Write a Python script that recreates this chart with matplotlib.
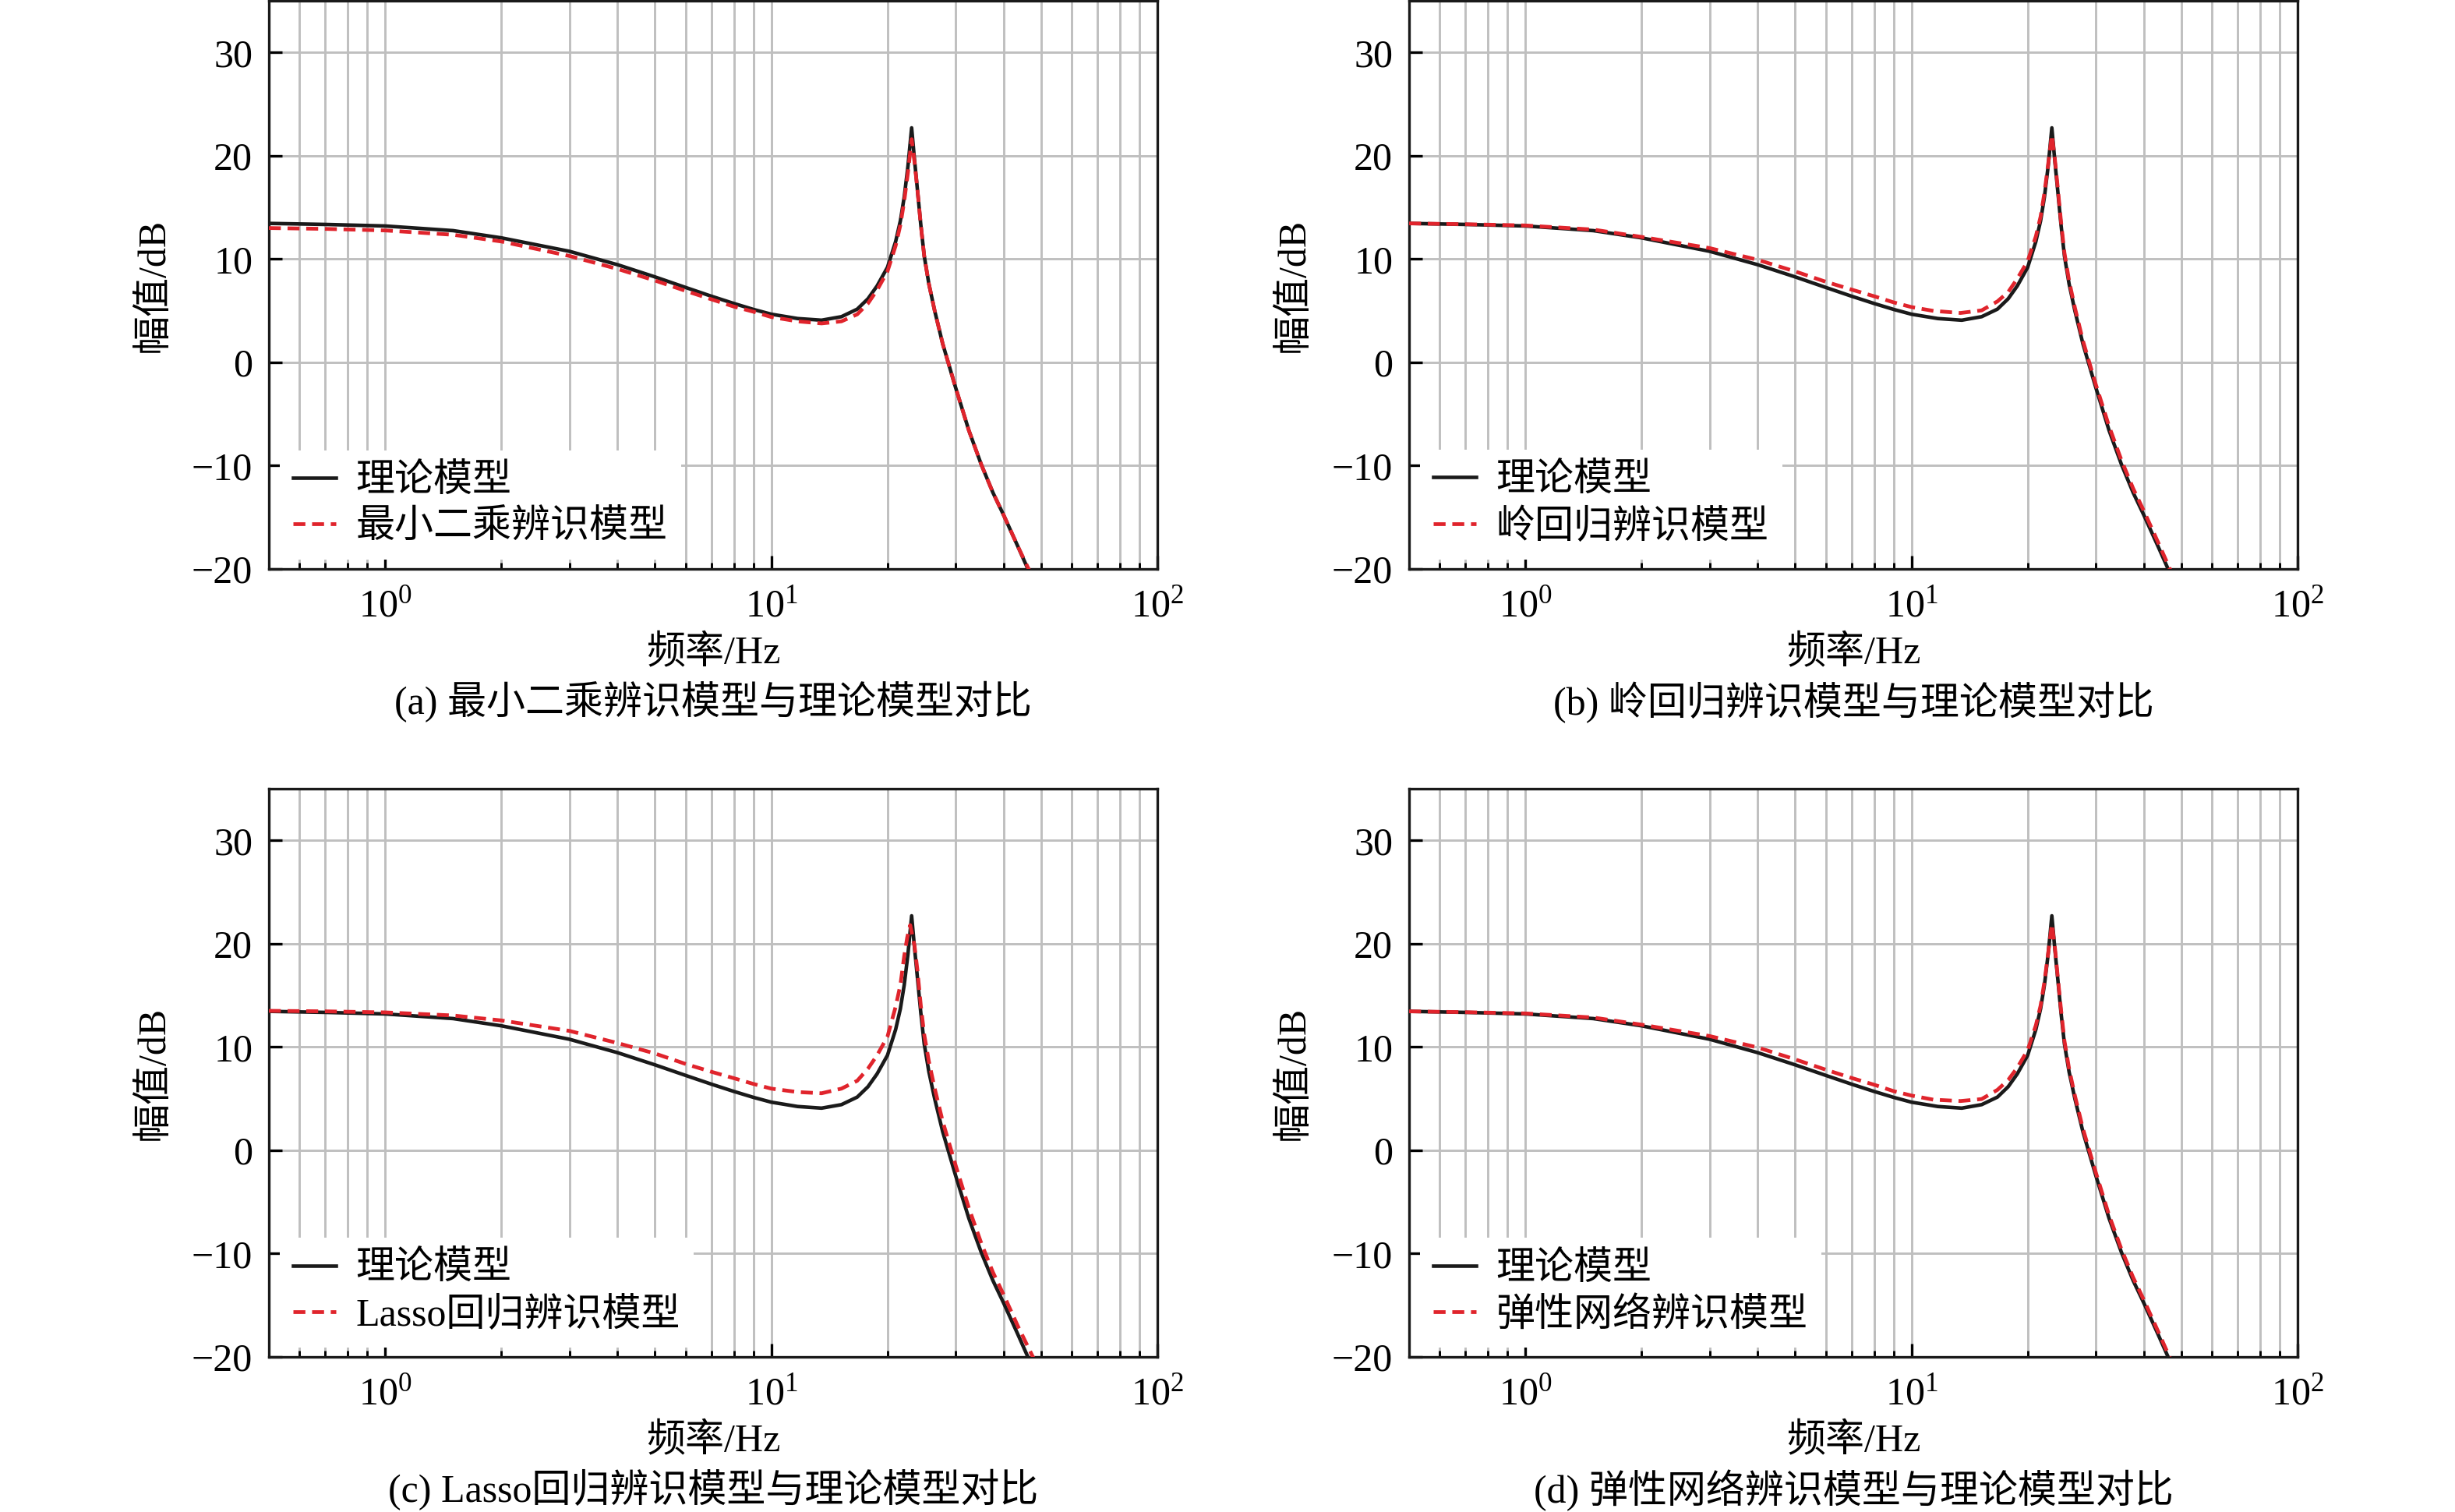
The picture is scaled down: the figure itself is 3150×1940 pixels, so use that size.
import matplotlib
matplotlib.use("Agg")
import matplotlib.pyplot as plt
from matplotlib.ticker import LogLocator, NullFormatter

plt.rcParams["font.family"] = ["Liberation Serif", "Noto Sans CJK SC"]
plt.rcParams["mathtext.fontset"] = "custom"
plt.rcParams["mathtext.rm"] = "Liberation Serif"
plt.rcParams["mathtext.it"] = "Liberation Serif:italic"
plt.rcParams["font.size"] = 12

# 频率点 (Hz) 与幅值 (dB)
f_theory = [0.5, 0.7, 1.0, 1.5, 2.0, 3.0, 4.0, 5.0, 6.0, 7.0, 8.0, 9.0, 10.0, 11.7, 13.5,
            15.2, 16.7, 17.8, 18.8, 20.0, 21.0, 21.6, 22.1, 22.6, 23.1, 23.5, 23.9, 24.4,
            24.9, 25.6, 26.5, 27.8, 30.0, 32.5, 35.0, 37.5, 40.0, 43.5, 46.2, 50.0]
mag_theory = [13.45, 13.35, 13.2, 12.75, 12.05, 10.75, 9.45, 8.27, 7.25, 6.4, 5.7, 5.12, 4.66,
              4.24, 4.08, 4.42, 5.15, 6.15, 7.4, 9.2, 11.7, 13.7, 16.0, 19.0, 22.7, 19.6, 16.8,
              13.3, 10.3, 7.6, 5.0, 1.8, -2.4, -6.6, -9.9, -12.6, -14.8, -17.8, -20.0, -23.0]

# (a) 最小二乘
f_ls = [0.5, 0.7, 1.0, 1.5, 2.0, 3.0, 4.0, 5.0, 6.0, 7.0, 8.0, 9.0, 10.0, 11.7, 13.5,
        15.2, 16.7, 17.8, 18.8, 20.0, 21.0, 21.6, 22.1, 22.6, 23.1, 23.5, 23.9, 24.4,
        24.9, 25.6, 26.5, 27.8, 30.0, 32.5, 35.0, 37.5, 40.0, 43.5, 46.4, 50.0]
mag_ls = [13.0, 12.92, 12.77, 12.35, 11.7, 10.3, 9.04, 7.92, 6.92, 6.1, 5.4, 4.9, 4.39,
          3.97, 3.77, 3.97, 4.65, 5.7, 7.0, 8.8, 11.3, 13.3, 15.6, 18.4, 21.6, 19.4, 16.8,
          13.3, 10.3, 7.6, 5.0, 1.8, -2.4, -6.6, -9.9, -12.6, -14.8, -17.8, -20.0, -23.0]

# (b) 岭回归
f_ridge = [0.5, 0.7, 1.0, 1.5, 2.0, 3.0, 4.0, 5.0, 6.0, 7.0, 8.0, 9.0, 10.0, 11.4, 13.4,
           15.2, 16.7, 17.8, 18.8, 20.0, 21.0, 21.6, 22.1, 22.6, 23.1, 23.5, 23.9, 24.4,
           24.9, 25.6, 26.5, 27.8, 30.0, 32.5, 35.0, 37.5, 40.0, 43.5, 46.2, 50.0]
mag_ridge = [13.45, 13.37, 13.25, 12.85, 12.14, 11.06, 9.92, 8.8, 7.8, 7.04, 6.4, 5.8, 5.35,
             4.98, 4.78, 5.03, 5.9, 6.8, 8.1, 9.8, 12.2, 14.1, 16.4, 19.2, 22.0, 19.8, 17.1,
             13.6, 10.6, 7.9, 5.3, 2.1, -2.1, -6.2, -9.5, -12.2, -14.4, -17.4, -19.6, -22.5]

# (c) Lasso回归
f_lasso = [0.5, 0.7, 1.0, 1.5, 2.0, 3.0, 4.0, 5.0, 6.0, 7.0, 8.0, 9.0, 10.0, 11.7, 13.5,
           15.2, 16.7, 17.8, 18.8, 20.0, 21.0, 21.6, 22.1, 22.5, 22.9, 23.5, 23.9, 24.4,
           24.9, 25.6, 26.5, 27.8, 30.0, 32.5, 35.0, 37.5, 40.0, 43.5, 47.6, 50.0]
mag_lasso = [13.5, 13.45, 13.35, 13.05, 12.57, 11.56, 10.38, 9.37, 8.36, 7.6, 6.98, 6.42, 5.97,
             5.64, 5.52, 5.97, 6.73, 7.9, 9.2, 11.0, 13.9, 16.0, 18.8, 20.6, 21.8, 19.8, 17.5,
             14.0, 11.2, 8.6, 6.0, 2.8, -1.4, -5.6, -9.0, -11.8, -14.0, -17.0, -20.0, -21.6]

# (d) 弹性网络
f_enet = [0.5, 0.7, 1.0, 1.5, 2.0, 3.0, 4.0, 5.0, 6.0, 7.0, 8.0, 9.0, 10.0, 11.4, 13.4,
          15.2, 16.7, 17.8, 18.8, 20.0, 21.0, 21.6, 22.1, 22.6, 23.1, 23.5, 23.9, 24.4,
          24.9, 25.6, 26.5, 27.8, 30.0, 32.5, 35.0, 37.5, 40.0, 43.5, 46.2, 50.0]
mag_enet = [13.45, 13.37, 13.25, 12.85, 12.16, 11.06, 9.95, 8.8, 7.8, 7.0, 6.35, 5.72, 5.3,
            4.9, 4.77, 4.96, 5.85, 6.8, 8.0, 9.7, 12.1, 14.0, 16.3, 19.1, 21.9, 19.8, 17.0,
            13.6, 10.6, 7.9, 5.3, 2.1, -2.1, -6.3, -9.6, -12.3, -14.5, -17.5, -19.7, -22.6]

model_names = ["最小二乘辨识模型", "岭回归辨识模型", "Lasso回归辨识模型", "弹性网络辨识模型"]
captions = ["(a) 最小二乘辨识模型与理论模型对比", "(b) 岭回归辨识模型与理论模型对比",
            "(c) Lasso回归辨识模型与理论模型对比", "(d) 弹性网络辨识模型与理论模型对比"]
model_f = [f_ls, f_ridge, f_lasso, f_enet]
model_mag = [mag_ls, mag_ridge, mag_lasso, mag_enet]

y_ticks = [-20, -10, 0, 10, 20, 30]

W, H = 3150, 1940
fig = plt.figure(figsize=(W / 300, H / 300), dpi=300)

# 子图位置 (像素 -> 比例)
lefts = [345, 1808]
bottoms = [730, 1741]
ax_w, ax_h = 1140, 729

for i in range(4):
    row, col = i // 2, i % 2
    l = lefts[col] / W
    b = 1 - bottoms[row] / H
    ax = fig.add_axes([l, b, ax_w / W, ax_h / H])

    ax.semilogx(f_theory, mag_theory, color="#1a1a1a", lw=1.1, label="理论模型", zorder=3)
    ax.semilogx(model_f[i], model_mag[i], color="#e0242c", lw=1.15, dashes=(3.2, 1.8),
                label=model_names[i], zorder=4)

    ax.set_xlim(0.5, 100)
    ax.set_ylim(-20, 35)
    ax.set_yticks(y_ticks)
    ax.xaxis.set_major_locator(LogLocator(base=10, numticks=10))
    ax.xaxis.set_minor_locator(LogLocator(base=10, subs=range(2, 10), numticks=20))
    ax.xaxis.set_minor_formatter(NullFormatter())

    ax.grid(True, which="major", color="#bfbfbf", lw=0.7)
    ax.grid(True, which="minor", axis="x", color="#bfbfbf", lw=0.7)
    ax.set_axisbelow(True)

    for s in ax.spines.values():
        s.set_linewidth(0.8)
        s.set_color("#1a1a1a")
    ax.tick_params(which="major", direction="in", length=4, width=0.8, pad=5)
    ax.tick_params(which="minor", direction="in", length=2, width=0.7)
    ax.tick_params(axis="x", which="major", pad=6)

    ax.set_xlabel("频率/Hz", labelpad=3)
    ax.set_ylabel("幅值/dB", labelpad=6)

    leg = ax.legend(loc="lower left", bbox_to_anchor=(0.012, 0.016), borderaxespad=0,
                    handlelength=1.1, handletextpad=0.5, labelspacing=0.25,
                    borderpad=0.35, fancybox=False, framealpha=1)
    leg.get_frame().set_linewidth(0)
    leg.get_frame().set_facecolor("white")
    leg.set_zorder(5)

    cx = (lefts[col] + ax_w / 2) / W
    cy = 1 - (bottoms[row] + 171) / H
    fig.text(cx, cy, captions[i], ha="center", va="center", fontsize=12)

fig.savefig("out.png", dpi=300)
